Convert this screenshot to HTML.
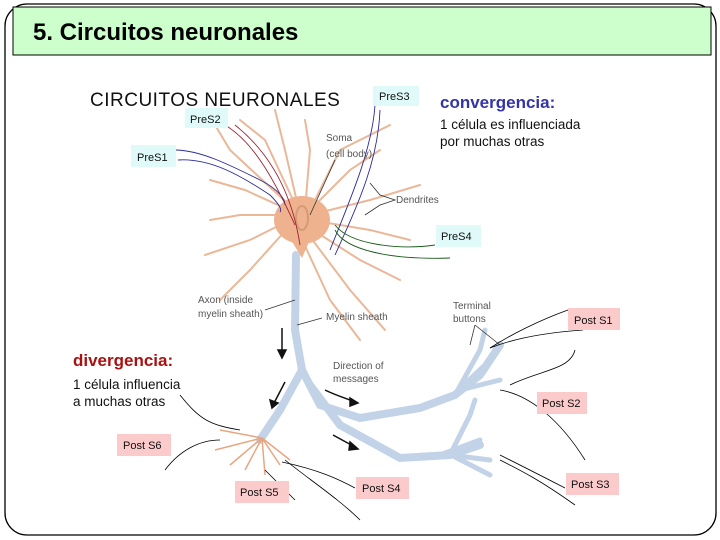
<!DOCTYPE html>
<html><head><meta charset="utf-8"><style>
html,body{margin:0;padding:0;background:#fff;}
svg{display:block;}
</style></head><body>
<svg width="720" height="540" viewBox="0 0 720 540" xmlns="http://www.w3.org/2000/svg" font-family="Liberation Sans, sans-serif">
<rect x="5" y="4" width="711" height="531" rx="22" fill="#fff" stroke="#000" stroke-width="1.3"/>
<rect x="13" y="7" width="698" height="48" fill="#ccffcc" stroke="#000" stroke-width="1"/>
<text x="33" y="40" font-size="24" font-weight="bold" fill="#000">5. Circuitos neuronales</text>

<!-- dendrites -->
<g stroke="#eab898" stroke-width="2" fill="none" stroke-linecap="round">
<path d="M300 215 L230 150 L215 125"/><path d="M300 215 L245 190 L210 180"/>
<path d="M300 215 L240 215 L210 220"/><path d="M300 215 L250 240 L205 255"/>
<path d="M300 215 L265 140 L240 120"/><path d="M300 215 L285 150 L275 110"/>
<path d="M305 210 L310 150 L305 120"/><path d="M310 210 L350 170 L380 150"/>
<path d="M310 215 L370 200 L420 185"/><path d="M310 220 L370 230 L410 240"/>
<path d="M305 225 L360 260 L400 280"/><path d="M305 230 L350 290 L385 330"/>
<path d="M300 235 L330 300 L360 340"/><path d="M310 210 L340 150 L390 125"/>
<path d="M295 220 L250 270 L220 300"/>
</g>
<ellipse cx="302" cy="220" rx="28" ry="24" fill="#eeb38e"/>
<path d="M288 235 L312 235 L302 258 Z" fill="#eeb38e"/>
<ellipse cx="302" cy="218" rx="6" ry="12" fill="none" stroke="#d59a78" stroke-width="2"/>

<!-- axon -->
<g stroke="#c2d3e8" stroke-width="8" fill="none" stroke-linecap="round">
<path d="M296 255 L295 330 L302 370"/>
<path d="M302 370 L280 410 L260 440"/>
<path d="M302 370 L320 405 L360 418 L420 408 L455 395 L480 375 L500 345"/>
<path d="M310 385 L340 425 L400 458 L450 455 L480 445"/>
</g>
<g stroke="#c2d3e8" stroke-width="5" fill="none" stroke-linecap="round">
<path d="M455 395 L480 350 L485 330"/><path d="M460 390 L500 380"/><path d="M450 398 L485 365"/>
<path d="M450 455 L490 460"/><path d="M450 455 L470 415 L475 400"/><path d="M440 455 L480 440"/><path d="M455 457 L490 475"/>
</g>
<g stroke="#e9a57f" stroke-width="1.5" fill="none">
<path d="M262 438 L220 430"/><path d="M262 438 L230 465"/><path d="M262 438 L245 470"/><path d="M262 438 L280 465"/><path d="M262 438 L290 460"/><path d="M262 438 L215 450"/><path d="M262 438 L265 475"/>
</g>

<!-- colored pre lines -->
<g fill="none" stroke-width="0.9">
<path d="M175 150 C200 150 230 165 260 180 C280 190 285 200 285 205" stroke="#2a2a9a"/>
<path d="M178 160 C210 158 240 175 270 195 C280 205 282 210 280 212" stroke="#2a2a9a"/>
<path d="M225 125 C250 140 270 170 295 225" stroke="#a02030"/>
<path d="M235 125 C260 145 290 180 300 245" stroke="#a02030"/>
<path d="M380 110 C378 160 360 200 335 255" stroke="#2a2a9a"/>
<path d="M375 105 C372 150 350 200 330 250" stroke="#2a2a9a"/>
<path d="M335 230 C345 250 390 260 450 258" stroke="#1a5a1a"/>
<path d="M335 225 C350 245 400 250 435 245" stroke="#1a5a1a"/>
</g>

<!-- black post lines -->
<g stroke="#000" stroke-width="0.8" fill="none">
<path d="M568 310 C540 320 510 335 490 348"/><path d="M583 330 C540 333 510 340 490 348"/>
<path d="M575 350 C570 370 540 370 510 385"/><path d="M500 390 C530 395 560 420 585 460"/>
<path d="M565 488 C530 470 510 460 500 455"/><path d="M575 505 C540 480 520 470 500 460"/>
<path d="M180 395 C200 420 210 425 240 430"/><path d="M165 470 C180 450 200 440 220 440"/>
<path d="M265 470 C275 480 285 490 295 500"/><path d="M282 462 C320 470 340 480 355 488"/><path d="M285 460 C310 480 340 500 360 520"/>
</g>

<!-- arrows -->
<g stroke="#111" stroke-width="1.5" fill="#111">
<path d="M282 328 L282 355" fill="none"/><path d="M278 350 L282 358 L286 350 Z"/>
<path d="M285 382 L273 405" fill="none"/><path d="M270 400 L272 408 L278 403 Z"/>
<path d="M325 390 C335 395 345 398 355 402" fill="none"/><path d="M350 398 L358 403 L350 406 Z"/>
<path d="M333 435 L355 447" fill="none"/><path d="M350 442 L358 449 L349 450 Z"/>
</g>
<g stroke="#333" stroke-width="0.8" fill="none">
<path d="M335 160 L310 215"/><path d="M370 183 L380 195 L395 200 L380 205 L365 215"/>
<path d="M265 310 L295 300"/><path d="M297 325 L322 318"/><path d="M475 325 L470 345"/><path d="M475 325 L500 345"/>
</g>

<!-- text -->
<text x="90" y="106" font-size="19" fill="#111" letter-spacing="0.5">CIRCUITOS NEURONALES</text>
<text x="440" y="108" font-size="17" font-weight="bold" fill="#3333aa">convergencia:</text>
<text x="440" y="129" font-size="13.5" fill="#111">1 célula es influenciada</text>
<text x="440" y="146" font-size="13.5" fill="#111">por muchas otras</text>
<text x="73" y="366" font-size="17" font-weight="bold" fill="#aa1111">divergencia:</text>
<text x="73" y="389" font-size="13.5" fill="#111">1 célula influencia</text>
<text x="73" y="406" font-size="13.5" fill="#111">a muchas otras</text>
<g font-size="10" fill="#555">
<text x="326" y="141">Soma</text><text x="326" y="157">(cell body)</text>
<text x="396" y="203">Dendrites</text>
<text x="198" y="303">Axon (inside</text><text x="198" y="317">myelin sheath)</text>
<text x="326" y="320">Myelin sheath</text>
<text x="453" y="309">Terminal</text><text x="453" y="322">buttons</text>
<text x="333" y="369">Direction of</text><text x="333" y="382">messages</text>
</g>
<g font-size="11" fill="#111">
<rect x="131" y="145" width="45" height="22" fill="#e0fafa"/><text x="137" y="161">PreS1</text>
<rect x="185" y="108" width="43" height="20" fill="#e0fafa"/><text x="190" y="123">PreS2</text>
<rect x="373" y="86" width="46" height="20" fill="#e0fafa"/><text x="379" y="100">PreS3</text>
<rect x="436" y="225" width="45" height="22" fill="#e0fafa"/><text x="441" y="240">PreS4</text>
<rect x="568" y="308" width="52" height="22" fill="#fbcaca"/><text x="574" y="324">Post S1</text>
<rect x="537" y="392" width="50" height="22" fill="#fbcaca"/><text x="542" y="407">Post S2</text>
<rect x="566" y="473" width="53" height="22" fill="#fbcaca"/><text x="571" y="488">Post S3</text>
<rect x="356" y="477" width="53" height="22" fill="#fbcaca"/><text x="362" y="492">Post S4</text>
<rect x="235" y="481" width="54" height="22" fill="#fbcaca"/><text x="240" y="496">Post S5</text>
<rect x="117" y="434" width="54" height="22" fill="#fbcaca"/><text x="123" y="449">Post S6</text>
</g>
</svg>
</body></html>
